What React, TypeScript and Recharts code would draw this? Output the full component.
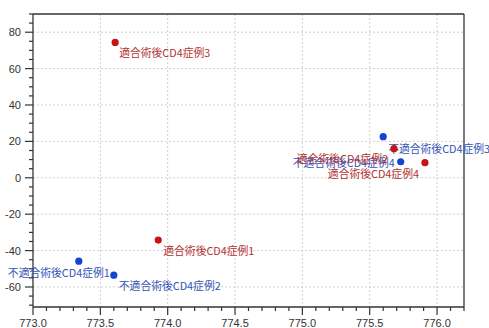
import { ScatterChart, Scatter, XAxis, YAxis, CartesianGrid, ReferenceLine } from "recharts"

const fitNames = ["適合術後CD4症例1", "適合術後CD4症例2", "適合術後CD4症例3", "適合術後CD4症例4"]
const fitX = [773.93, 775.68, 773.61, 775.91]
const fitY = [-34.2, 16.0, 74.4, 8.3]

const unfitNames = ["不適合術後CD4症例1", "不適合術後CD4症例2", "不適合術後CD4症例3", "不適合術後CD4症例4"]
const unfitX = [773.34, 773.6, 775.6, 775.73]
const unfitY = [-45.8, -53.5, 22.6, 8.8]

const xMajor = [773.0, 773.5, 774.0, 774.5, 775.0, 775.5, 776.0]
const yMajor = [-60, -40, -20, 0, 20, 40, 60, 80]

// minor ticks: every 0.1 on x, every 5 on y
const xTicks: number[] = []
for (let i = 0; i <= 32; i++) xTicks.push(Math.round((773 + i * 0.1) * 10) / 10)
const yTicks: number[] = []
for (let v = -70; v <= 90; v += 5) yTicks.push(v)

// label placement next to each point
const fitLabelPos = [
  { anchor: "start", dx: 5, dy: 10 },
  { anchor: "end", dx: -6, dy: 9 },
  { anchor: "start", dx: 4, dy: 10 },
  { anchor: "end", dx: -6, dy: 10 },
]
const unfitLabelPos = [
  { anchor: "middle", dx: -20, dy: 11 },
  { anchor: "start", dx: 5, dy: 10 },
  { anchor: "start", dx: 5, dy: 11 },
  { anchor: "end", dx: -6, dy: 0 },
]

const fitData = fitNames.map((name, i) => ({ name, x: fitX[i], y: fitY[i], pos: i }))
const unfitData = unfitNames.map((name, i) => ({ name, x: unfitX[i], y: unfitY[i], pos: i }))

const isMajor = (v: number, list: number[]) => list.some((m) => Math.abs(m - v) < 1e-6)

function XTick(props: any) {
  const { x, y, payload } = props
  const major = isMajor(payload.value, xMajor)
  return (
    <g>
      <line x1={x} x2={x} y1={y} y2={y + (major ? 8 : 4)} stroke="#333" strokeWidth={1.2} />
      {major && (
        <text x={x} y={y + 16} textAnchor="middle" dominantBaseline="central" fontSize={11} fill="#333"
          fontFamily="Liberation Sans, Arial, sans-serif">
          {payload.value.toFixed(1)}
        </text>
      )}
    </g>
  )
}

function YTick(props: any) {
  const { x, y, payload } = props
  const major = isMajor(payload.value, yMajor)
  return (
    <g>
      <line x1={x} x2={x - (major ? 8 : 4)} y1={y} y2={y} stroke="#333" strokeWidth={1.2} />
      {major && (
        <text x={x - 12} y={y} textAnchor="end" dominantBaseline="central" fontSize={11} fill="#333"
          fontFamily="Liberation Sans, Arial, sans-serif">
          {payload.value}
        </text>
      )}
    </g>
  )
}

function makeShape(dot: string, text: string, placement: typeof fitLabelPos) {
  return (p: any) => {
    const pos = placement[p.payload.pos]
    return (
      <g>
        <circle cx={p.cx} cy={p.cy} r={3.6} fill={dot} />
        <text x={p.cx + pos.dx} y={p.cy + pos.dy} textAnchor={pos.anchor} dominantBaseline="central"
          fontSize={10.8} fill={text} fontFamily="Noto Sans CJK JP, sans-serif">
          {p.payload.name}
        </text>
      </g>
    )
  }
}

export default function App() {
  return (
    <div style={{ position: "absolute", left: 0, top: 0, background: "#fff" }}>
      <ScatterChart width={489} height={328} margin={{ top: 14, right: 25, left: 0, bottom: 0 }}>
        <CartesianGrid stroke="#cfcfcf" strokeDasharray="2 2"
          horizontalValues={yMajor} verticalValues={xMajor.slice(1)} />
        <XAxis type="number" dataKey="x" domain={[773, 776.2]} ticks={xTicks} interval={0}
          height={21} tickSize={0} tickMargin={0} tickLine={false}
          axisLine={{ stroke: "#333", strokeWidth: 1.3 }} tick={<XTick />} />
        <YAxis type="number" dataKey="y" domain={[-71, 90]} ticks={yTicks} interval={0}
          width={33} tickSize={0} tickMargin={0} tickLine={false}
          axisLine={{ stroke: "#333", strokeWidth: 1.3 }} tick={<YTick />} />
        <ReferenceLine y={90} stroke="#333" strokeWidth={1.3} />
        <ReferenceLine x={776.2} stroke="#333" strokeWidth={1.3} />
        <Scatter data={unfitData} isAnimationActive={false}
          shape={makeShape("#1543d6", "#3553b5", unfitLabelPos)} />
        <Scatter data={fitData} isAnimationActive={false}
          shape={makeShape("#c81414", "#b23232", fitLabelPos)} />
      </ScatterChart>
    </div>
  )
}
